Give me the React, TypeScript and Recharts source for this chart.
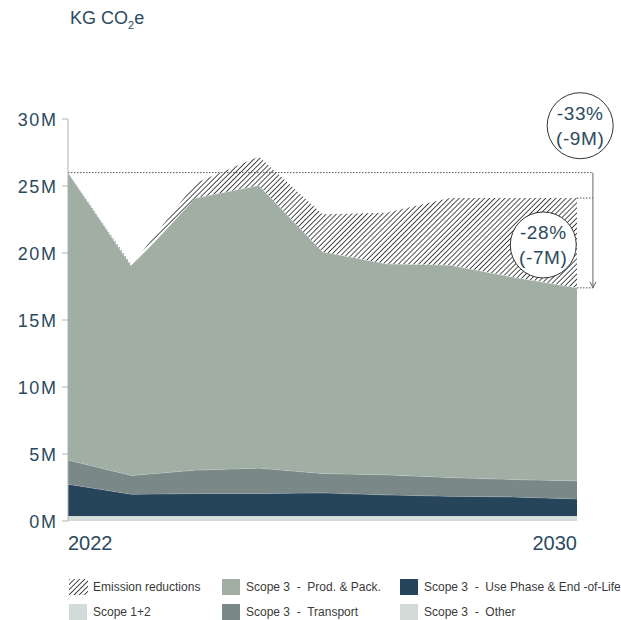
import { Area, AreaChart, ReferenceDot, ReferenceLine, XAxis, YAxis } from "recharts";

const YEARS = [2022, 2023, 2024, 2025, 2026, 2027, 2028, 2029, 2030];
// values in million kg CO2e, stacked bottom to top
const SCOPE_12 = [0.2, 0.2, 0.2, 0.2, 0.2, 0.2, 0.2, 0.2, 0.2];
const SCOPE3_OTHER = [0.17, 0.17, 0.17, 0.17, 0.17, 0.17, 0.17, 0.17, 0.17];
const SCOPE3_USE = [2.38, 1.63, 1.68, 1.68, 1.73, 1.58, 1.48, 1.43, 1.28];
const SCOPE3_TRANSPORT = [1.8, 1.4, 1.75, 1.9, 1.45, 1.5, 1.4, 1.3, 1.35];
const SCOPE3_PROD = [21.45, 15.6, 20.3, 21.1, 16.55, 15.75, 15.85, 15.1, 14.4];
const REDUCTIONS = [0, 0.1, 1.1, 2.15, 2.8, 3.8, 5.0, 5.9, 6.7];

const Y_TICKS = [0, 5, 10, 15, 20, 25, 30];
const X_TICKS = [2022, 2030];

const BASELINE = 26;
const BAU_2030 = 24.1;
const TARGET_2030 = 17.4;
const BRACKET_X = 2030.25;
const BUBBLES = [
  { x: 2030.05, y: 29.5, lines: ["-33%", "(-9M)"] },
  { x: 2029.47, y: 20.6, lines: ["-28%", "(-7M)"] },
];

const INK = "#2c4a5e";
const FONT = "'Liberation Sans', Arial, Helvetica, sans-serif";
const C_PROD = "#a0aea4";
const C_TRANSPORT = "#7a8987";
const C_USE = "#27455a";
const C_LIGHT = "#d3dbd8";

const data = YEARS.map((year, i) => ({
  year,
  scope12: SCOPE_12[i],
  other: SCOPE3_OTHER[i],
  use: SCOPE3_USE[i],
  transport: SCOPE3_TRANSPORT[i],
  prod: SCOPE3_PROD[i],
  reductions: REDUCTIONS[i],
}));

const legendItems = [
  { label: "Emission reductions", color: "hatch" },
  { label: "Scope 3  -  Prod. & Pack.", color: C_PROD },
  { label: "Scope 3  -  Use Phase & End -of-Life", color: C_USE },
  { label: "Scope 1+2", color: C_LIGHT },
  { label: "Scope 3  -  Transport", color: C_TRANSPORT },
  { label: "Scope 3  -  Other", color: C_LIGHT },
];

function YearTick(props: any) {
  const { x, y, payload } = props;
  const anchor = payload.value === YEARS[0] ? "start" : "end";
  return (
    <text x={x} y={y} dy={21} textAnchor={anchor} fontSize={20} fill={INK} fontFamily={FONT}>
      {payload.value}
    </text>
  );
}

function ValueTick(props: any) {
  const { x, y, payload } = props;
  return (
    <text x={x + 1.5} y={y} dy={6.5} textAnchor="end" fontSize={18} letterSpacing={1.6} fill={INK} fontFamily={FONT}>
      {`${payload.value}M`}
    </text>
  );
}

function Dotted(props: any) {
  const { x1, y1, x2, y2 } = props;
  return <line x1={x1} y1={y1} x2={x2} y2={y2} stroke="#555" strokeWidth={1} strokeDasharray="1.5 1.5" />;
}

function Arrow(props: any) {
  const { x1, y1, x2, y2 } = props;
  const bottom = Math.max(y1, y2);
  return (
    <g>
      <line x1={x1} y1={Math.min(y1, y2)} x2={x2} y2={bottom} stroke="#666" strokeWidth={1} />
      <polyline points={`${x1 - 3},${bottom - 6} ${x1},${bottom} ${x1 + 3},${bottom - 6}`} fill="none" stroke="#666" strokeWidth={1} />
    </g>
  );
}

function bubble(lines: string[]) {
  return (props: any) => {
    const { cx, cy } = props;
    return (
      <g>
        <circle cx={cx} cy={cy} r={33} fill="#fff" stroke="#333" strokeWidth={1} />
        <text x={cx} y={cy - 12} textAnchor="middle" dominantBaseline="central" fontSize={19} letterSpacing={0.6} fill={INK} fontFamily={FONT}>
          {lines[0]}
        </text>
        <text x={cx} y={cy + 13} textAnchor="middle" dominantBaseline="central" fontSize={19} letterSpacing={0.6} fill={INK} fontFamily={FONT}>
          {lines[1]}
        </text>
      </g>
    );
  };
}

function HatchDefs({ id }: { id: string }) {
  return (
    <defs>
      <pattern id={id} patternUnits="userSpaceOnUse" width={3.6} height={3.6} patternTransform="rotate(45)">
        <line x1={0} y1={0} x2={0} y2={3.6} stroke="#2e2e2e" strokeWidth={1.7} />
      </pattern>
    </defs>
  );
}

export default function App() {
  return (
    <div style={{ position: "absolute", left: 0, top: 0, width: 621, height: 620, background: "#fff", fontFamily: FONT }}>
      <div style={{ position: "absolute", left: 70, top: 8, fontSize: 18, color: INK, lineHeight: "20px" }}>
        KG CO<sub style={{ fontSize: 11 }}>2</sub>e
      </div>

      <AreaChart width={621} height={620} data={data} margin={{ top: 119, right: 44, left: 0, bottom: 59 }}>
        <HatchDefs id="hatch" />
        <XAxis
          dataKey="year"
          type="number"
          domain={[2022, 2030]}
          ticks={X_TICKS}
          axisLine={false}
          tickLine={false}
          height={40}
          tick={<YearTick />}
        />
        <YAxis
          type="number"
          domain={[0, 30]}
          ticks={Y_TICKS}
          width={68}
          axisLine={{ stroke: "#aab5b1" }}
          tickLine={{ stroke: "#aab5b1" }}
          tickSize={6}
          tickMargin={6}
          tick={<ValueTick />}
        />
        <Area type="linear" dataKey="scope12" stackId="1" fill={C_LIGHT} fillOpacity={1} stroke="none" isAnimationActive={false} />
        <Area type="linear" dataKey="other" stackId="1" fill={C_LIGHT} fillOpacity={1} stroke="none" isAnimationActive={false} />
        <Area type="linear" dataKey="use" stackId="1" fill={C_USE} fillOpacity={1} stroke="#ffffff" strokeOpacity={0.35} strokeWidth={1} isAnimationActive={false} />
        <Area type="linear" dataKey="transport" stackId="1" fill={C_TRANSPORT} fillOpacity={1} stroke="#ffffff" strokeOpacity={0.35} strokeWidth={1} isAnimationActive={false} />
        <Area type="linear" dataKey="prod" stackId="1" fill={C_PROD} fillOpacity={1} stroke="#ffffff" strokeOpacity={0.6} strokeWidth={1} isAnimationActive={false} />
        <Area type="linear" dataKey="reductions" stackId="1" fill="url(#hatch)" fillOpacity={1} stroke="none" isAnimationActive={false} />

        <ReferenceLine segment={[{ x: 2022, y: BASELINE }, { x: BRACKET_X, y: BASELINE }]} ifOverflow="visible" shape={<Dotted />} />
        <ReferenceLine segment={[{ x: 2030, y: BAU_2030 }, { x: BRACKET_X, y: BAU_2030 }]} ifOverflow="visible" shape={<Dotted />} />
        <ReferenceLine segment={[{ x: 2030, y: TARGET_2030 }, { x: BRACKET_X, y: TARGET_2030 }]} ifOverflow="visible" shape={<Dotted />} />
        <ReferenceLine segment={[{ x: BRACKET_X, y: BASELINE }, { x: BRACKET_X, y: TARGET_2030 }]} ifOverflow="visible" shape={<Arrow />} />
        {BUBBLES.map((b) => (
          <ReferenceDot key={b.lines[0]} x={b.x} y={b.y} r={33} ifOverflow="visible" shape={bubble(b.lines)} />
        ))}
      </AreaChart>

      <div style={{ position: "absolute", left: 69, top: 579, width: 560, display: "grid", gridTemplateColumns: "153px 178px 230px", rowGap: 9, fontSize: 12, color: "#3a3a3a" }}>
        {legendItems.map((item) => (
          <div key={item.label} style={{ display: "flex", alignItems: "center", height: 16, whiteSpace: "pre" }}>
            {item.color === "hatch" ? (
              <svg width={19} height={16} style={{ marginRight: 5, flex: "none" }}>
                <HatchDefs id="hatchLegend" />
                <rect width={19} height={16} fill="url(#hatchLegend)" />
              </svg>
            ) : (
              <span style={{ width: 18, height: 16, background: item.color, marginRight: 6, flex: "none" }} />
            )}
            {item.label}
          </div>
        ))}
      </div>
    </div>
  );
}
